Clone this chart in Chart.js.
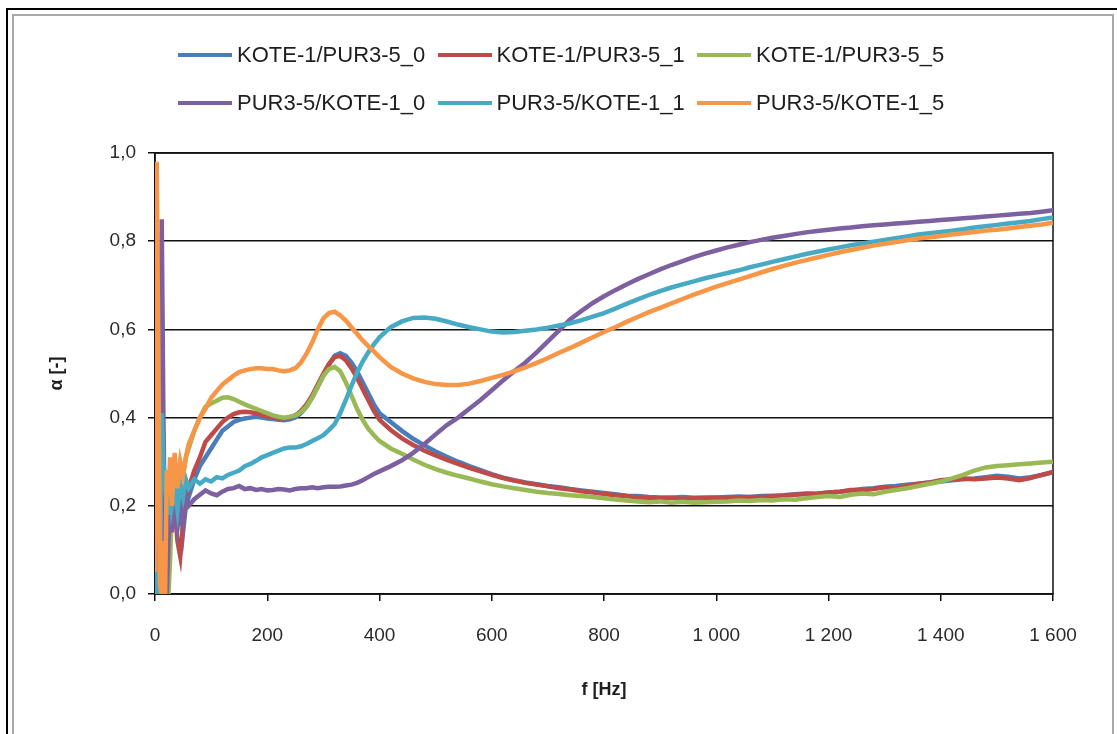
<!DOCTYPE html>
<html>
<head>
<meta charset="utf-8">
<script src="https://cdn.jsdelivr.net/npm/chart.js@4.4.0/dist/chart.umd.min.js"></script>
<style>
  html, body { margin: 0; padding: 0; background: #fff; }
  #wrap { position: relative; width: 1117px; height: 734px; overflow: hidden; background: #fff; }
  #chart { position: absolute; left: 0; top: 0; }
  .frame-outer { position: absolute; left: 6px; top: 8px; width: 1200px; height: 800px;
    border-top: 2px solid #000; border-left: 2px solid #000; pointer-events: none; }
  .frame-inner { position: absolute; left: 12px; top: 14px; width: 1098px; height: 800px;
    border: 2px solid #a8a8a8; pointer-events: none; }
  .legend-item { position: absolute; display: flex; align-items: center; height: 26px;
    font-family: "Liberation Sans", Arial, sans-serif; font-size: 22px; color: #1e1e1e; white-space: nowrap; }
  .legend-swatch { display: inline-block; width: 54px; height: 4px; margin-right: 5px; }
</style>
</head>
<body>
<div id="wrap">
  <canvas id="chart" width="1117" height="734"></canvas>
  <div class="frame-outer"></div>
  <div class="frame-inner"></div>
  <div id="legend"></div>
</div>
<script>
// Frequency points (Hz)
const freq = [
  0, 3, 6, 9, 12, 15, 18, 21, 24, 27, 30, 35, 40, 45, 50, 55, 60, 70, 80, 90,
  100, 110, 120, 130, 140, 150, 160, 170, 180, 190, 200, 210, 220, 230, 240, 250,
  260, 270, 280, 290, 300, 310, 320, 330, 340, 350, 360, 370, 380, 390, 400,
  420, 440, 460, 480, 500, 520, 540, 560, 580, 600,
  620, 640, 660, 680, 700, 720, 740, 760, 780, 800,
  820, 840, 860, 880, 900, 920, 940, 960, 980, 1000,
  1020, 1040, 1060, 1080, 1100, 1120, 1140, 1160, 1180, 1200,
  1220, 1240, 1260, 1280, 1300, 1320, 1340, 1360, 1380, 1400,
  1420, 1440, 1460, 1480, 1500, 1520, 1540, 1560, 1580, 1600
];

const seriesNames = [
  'KOTE-1/PUR3-5_0', 'KOTE-1/PUR3-5_1', 'KOTE-1/PUR3-5_5',
  'PUR3-5/KOTE-1_0', 'PUR3-5/KOTE-1_1', 'PUR3-5/KOTE-1_5'
];

// Sound absorption coefficient α for each sample
const kote_0 = [
  0.0, 0.0, 0.0, 0.0, 0.0, 0.05, 0.12, 0.2, 0.15, 0.22, 0.18, 0.22, 0.17, 0.2, 0.14, 0.2, 0.22, 0.26, 0.29, 0.31,
  0.33, 0.35, 0.37, 0.38, 0.39, 0.395, 0.398, 0.40, 0.402, 0.40, 0.398, 0.397, 0.395, 0.394, 0.396, 0.40,
  0.41, 0.425, 0.445, 0.47, 0.495, 0.52, 0.54, 0.546, 0.54, 0.525, 0.505, 0.48, 0.455, 0.43, 0.41,
  0.39, 0.37, 0.352, 0.337, 0.323, 0.311, 0.30, 0.29, 0.281, 0.272,
  0.264, 0.258, 0.253, 0.249, 0.245, 0.242, 0.238, 0.235, 0.232, 0.229,
  0.226, 0.223, 0.222, 0.22, 0.219, 0.218, 0.22, 0.218, 0.219, 0.219,
  0.22, 0.221, 0.22, 0.222, 0.223, 0.224, 0.226, 0.228, 0.227, 0.23,
  0.232, 0.235, 0.238, 0.24, 0.243, 0.245, 0.248, 0.25, 0.253, 0.255,
  0.258, 0.26, 0.262, 0.265, 0.268, 0.266, 0.262, 0.265, 0.27, 0.276
];
const kote_1 = [
  0.0, 0.0, 0.0, 0.0, 0.02, 0.1, 0.18, 0.25, 0.16, 0.24, 0.17, 0.2, 0.12, 0.085, 0.16, 0.22, 0.24, 0.28, 0.31, 0.345,
  0.36, 0.375, 0.39, 0.40, 0.408, 0.412, 0.413, 0.412, 0.41, 0.406, 0.403, 0.40, 0.398, 0.398, 0.40, 0.405,
  0.415, 0.43, 0.45, 0.475, 0.50, 0.522, 0.537, 0.54, 0.53, 0.512, 0.49, 0.465, 0.44, 0.415, 0.395,
  0.372, 0.353, 0.338, 0.325, 0.314, 0.304, 0.295, 0.286, 0.278, 0.27,
  0.263, 0.257, 0.252, 0.248, 0.244, 0.24, 0.237, 0.233, 0.23, 0.227,
  0.224, 0.222, 0.219, 0.218, 0.217, 0.218, 0.216, 0.217, 0.217, 0.218,
  0.217, 0.219, 0.22, 0.22, 0.221, 0.223, 0.225, 0.227, 0.228, 0.23,
  0.232, 0.236, 0.235, 0.238, 0.242, 0.24, 0.245, 0.25, 0.253, 0.258,
  0.26, 0.262, 0.26, 0.262, 0.264, 0.262, 0.258, 0.263, 0.27, 0.277
];
const kote_5 = [
  0.0, 0.0, 0.0, 0.0, 0.0, 0.0, 0.0, 0.02, 0.0, 0.08, 0.2, 0.26, 0.22, 0.29, 0.27, 0.31, 0.33, 0.37, 0.40, 0.425,
  0.432, 0.438, 0.445, 0.446, 0.442, 0.436, 0.43, 0.425, 0.42, 0.415, 0.41, 0.405, 0.402, 0.40, 0.402, 0.405,
  0.412, 0.425, 0.445, 0.47, 0.495, 0.51, 0.515, 0.505, 0.48, 0.45, 0.42, 0.395, 0.375, 0.36, 0.347,
  0.33, 0.318, 0.305, 0.293, 0.283, 0.275, 0.268, 0.262, 0.255, 0.249,
  0.244, 0.24, 0.236, 0.232, 0.229, 0.227, 0.224, 0.222, 0.22, 0.217,
  0.214, 0.212, 0.21, 0.208, 0.21, 0.207, 0.209, 0.207, 0.208, 0.209,
  0.21, 0.212, 0.211, 0.213, 0.212, 0.215, 0.214, 0.217, 0.22, 0.222,
  0.22, 0.225, 0.228, 0.226, 0.232, 0.236, 0.24, 0.245, 0.25, 0.255,
  0.262, 0.27, 0.28, 0.287, 0.29, 0.292, 0.294, 0.296, 0.298, 0.30
];
const pur_0 = [
  0.0, 0.0, 0.1, 0.5, 0.85, 0.4, 0.1, 0.0, 0.12, 0.2, 0.14, 0.2, 0.15, 0.21, 0.17, 0.22, 0.2, 0.215, 0.225, 0.235,
  0.228, 0.224, 0.232, 0.238, 0.24, 0.245, 0.238, 0.24, 0.236, 0.238, 0.235, 0.236, 0.238, 0.237, 0.235, 0.238,
  0.24, 0.24, 0.242, 0.24, 0.242, 0.243, 0.243, 0.244, 0.246, 0.248, 0.252, 0.258, 0.265, 0.272, 0.278,
  0.29, 0.303, 0.32, 0.34, 0.362, 0.383, 0.40, 0.42, 0.44, 0.462,
  0.484, 0.505, 0.525, 0.548, 0.573, 0.598, 0.623, 0.642, 0.66, 0.675,
  0.689, 0.702, 0.714, 0.725, 0.736, 0.746, 0.755, 0.764, 0.772, 0.779,
  0.786, 0.792, 0.798, 0.803, 0.808, 0.812, 0.816, 0.82, 0.823, 0.826,
  0.829, 0.831, 0.834, 0.836, 0.838, 0.84, 0.842, 0.844, 0.846, 0.848,
  0.85, 0.852, 0.854, 0.856, 0.858, 0.86, 0.862, 0.864, 0.867, 0.87
];
const pur_1 = [
  0.08, 0.0, 0.0, 0.05, 0.41, 0.30, 0.25, 0.28, 0.18, 0.27, 0.2, 0.24, 0.19, 0.25, 0.22, 0.26, 0.24, 0.26, 0.25, 0.26,
  0.255, 0.265, 0.262, 0.27, 0.275, 0.28, 0.29, 0.295, 0.302, 0.31, 0.315, 0.32, 0.325, 0.33, 0.332, 0.332,
  0.335, 0.34, 0.347, 0.353, 0.36, 0.372, 0.385, 0.41, 0.44, 0.472, 0.502, 0.527, 0.548, 0.566, 0.582,
  0.605, 0.618, 0.626, 0.627, 0.624, 0.618, 0.611, 0.605, 0.6, 0.595,
  0.593, 0.594, 0.597, 0.6, 0.604, 0.609, 0.614, 0.621, 0.629, 0.637,
  0.647, 0.658, 0.668, 0.678, 0.687, 0.695, 0.702, 0.709, 0.716, 0.722,
  0.728, 0.734, 0.741, 0.747, 0.753, 0.759, 0.765, 0.771, 0.776, 0.781,
  0.786, 0.791, 0.795, 0.799, 0.803, 0.807, 0.811, 0.815, 0.818, 0.821,
  0.824, 0.827, 0.831, 0.834, 0.837, 0.84, 0.843, 0.846, 0.85, 0.854
];
const pur_5 = [
  0.05, 0.98, 0.55, 0.02, 0.0, 0.12, 0.0, 0.28, 0.22, 0.31, 0.2, 0.32, 0.24, 0.3, 0.27, 0.31, 0.34, 0.37, 0.40, 0.42,
  0.445, 0.46, 0.475, 0.485, 0.495, 0.503, 0.507, 0.51, 0.512, 0.512, 0.51, 0.51, 0.507, 0.505, 0.507, 0.512,
  0.525, 0.545, 0.57, 0.60, 0.625, 0.637, 0.64, 0.632, 0.62, 0.605, 0.59, 0.575, 0.562, 0.55, 0.537,
  0.515, 0.5, 0.489, 0.481, 0.476, 0.474, 0.474, 0.477, 0.483, 0.49,
  0.497, 0.505, 0.514, 0.524, 0.535, 0.547, 0.558, 0.57, 0.582, 0.594,
  0.605, 0.617, 0.628, 0.639, 0.649, 0.659, 0.669, 0.679, 0.688, 0.697,
  0.705, 0.713, 0.721, 0.729, 0.737, 0.744, 0.751, 0.757, 0.763, 0.769,
  0.775, 0.78, 0.785, 0.79, 0.794, 0.798, 0.802, 0.806, 0.809, 0.812,
  0.815, 0.818, 0.821, 0.824, 0.826, 0.829, 0.832, 0.835, 0.838, 0.842
];

const xTickLabels = ['0', '200', '400', '600', '800', '1 000', '1 200', '1 400', '1 600'];
const yTickLabels = ['0,0', '0,2', '0,4', '0,6', '0,8', '1,0'];

const seriesValues = [kote_0, kote_1, kote_5, pur_0, pur_1, pur_5];
const seriesColors = ['#4a7ebb', '#be4b48', '#98b954', '#7d60a0', '#46aac5', '#f79646'];

// HTML legend: two rows of three entries
const legendEl = document.getElementById('legend');
seriesNames.forEach((name, i) => {
  const item = document.createElement('div');
  item.className = 'legend-item';
  item.style.left = (178 + (i % 3) * 259.5) + 'px';
  item.style.top = (i < 3 ? 42 : 90) + 'px';
  const sw = document.createElement('span');
  sw.className = 'legend-swatch';
  sw.style.background = seriesColors[i];
  const txt = document.createElement('span');
  txt.textContent = name;
  item.appendChild(sw);
  item.appendChild(txt);
  legendEl.appendChild(item);
});

// Box around the plot area
const plotFrame = {
  id: 'plotFrame',
  beforeDatasetsDraw(chart) {
    const { ctx, chartArea: a } = chart;
    ctx.save();
    ctx.strokeStyle = '#111';
    ctx.lineWidth = 1.5;
    ctx.strokeRect(a.left, a.top, a.right - a.left, a.bottom - a.top);
    ctx.restore();
  }
};

const datasets = seriesNames.map((name, i) => ({
  label: name,
  data: freq.map((f, j) => ({ x: f, y: seriesValues[i][j] })),
  borderColor: seriesColors[i],
  backgroundColor: seriesColors[i],
  borderWidth: 4.5,
  pointRadius: 0,
  tension: 0,
  fill: false,
  order: seriesNames.length - i
}));

const tickFont = { family: '"Liberation Sans", Arial, sans-serif', size: 19 };
const titleFont = { family: '"Liberation Sans", Arial, sans-serif', size: 18, weight: 'bold' };

new Chart(document.getElementById('chart'), {
  type: 'line',
  data: { datasets },
  options: {
    responsive: false,
    animation: false,
    layout: { padding: { top: 153, right: 64, left: 0, bottom: 0 } },
    plugins: { legend: { display: false }, tooltip: { enabled: false } },
    scales: {
      x: {
        type: 'linear',
        min: 0, max: 1600,
        ticks: {
          stepSize: 200, autoSkip: false, maxRotation: 0,
          padding: 23, color: '#2a2a2a', font: tickFont,
          callback: (v, i) => xTickLabels[i]
        },
        grid: { drawOnChartArea: false, drawTicks: true, tickLength: 7, color: '#111', lineWidth: 1.5 },
        border: { display: true, color: '#111', width: 1.5 },
        title: { display: true, text: 'f [Hz]', color: '#1e1e1e', font: titleFont, padding: { top: 0, bottom: 33 } },
        afterFit(scale) { scale.height = 140; }
      },
      y: {
        min: 0, max: 1,
        ticks: {
          stepSize: 0.2, padding: 12, color: '#2a2a2a', font: tickFont,
          callback: (v, i) => yTickLabels[i]
        },
        grid: { color: '#111', lineWidth: 1.5, drawTicks: true, tickLength: 7 },
        border: { display: true, color: '#111', width: 1.5 },
        title: { display: true, text: 'α [-]', color: '#1e1e1e', font: titleFont, padding: { top: 46, bottom: 0 } },
        afterFit(scale) { scale.width = 155; }
      }
    }
  },
  plugins: [plotFrame]
});
</script>
</body>
</html>
